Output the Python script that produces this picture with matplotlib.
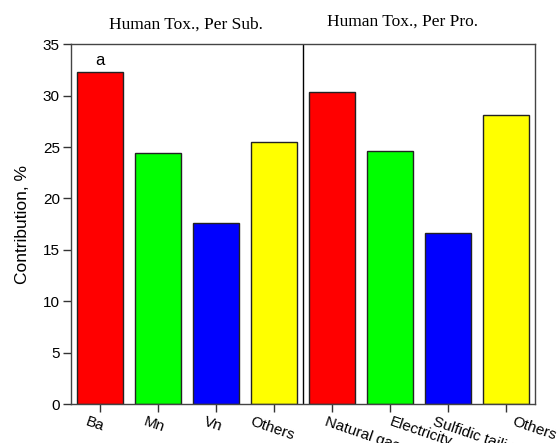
import numpy as np
import matplotlib
matplotlib.use('Agg')
from matplotlib import pyplot as plt
from matplotlib import transforms

## Contributions to human toxicity, per substance and per process
categories = ['Ba', 'Mn', 'Vn', 'Others',
              'Natural gas', 'Electricity', 'Sulfidic tailing', 'Others']
values = [32.3, 24.4, 17.6, 25.5, 30.4, 24.65, 16.6, 28.1]
colors = ['#ff0000', '#00ff00', '#0000ff', '#ffff00',
          '#ff0000', '#00ff00', '#0000ff', '#ffff00']
group_titles = ['Human Tox., Per Sub.', 'Human Tox., Per Pro.']

# horizontal nudges for the rotated category labels [px]
label_dx = [-12, -12, -9, -21, -4, 2, -12, 9]

plt.rcParams['font.family'] = ['Liberation Sans', 'DejaVu Sans']

fig = plt.figure(figsize=(5.6, 4.43), dpi=100)
ax = fig.add_axes([71/560, 1-404/443, (535-71)/560, (404-44.3)/443])

x = np.arange(1, len(values)+1)
ax.bar(x, values, width=0.8, color=colors, edgecolor='#222222', linewidth=1.0)

## Divider between the two groups
ax.axvline(4.5, color='black', linewidth=1.0)

ax.set_xlim(0.5, 8.5)
ax.set_ylim(0, 35)
ax.set_yticks(np.arange(0, 36, 5))
ax.set_xticks(x)
ax.set_xticklabels([])

## Rotated category labels, drawn by hand so each can be nudged
for xi, name, dx in zip(x, categories, label_dx):
    ax.annotate(name, xy=(xi, 0), xycoords=('data', 'axes fraction'),
                xytext=(dx, -11), textcoords='offset pixels',
                rotation=-19, ha='left', va='top', rotation_mode='anchor',
                fontsize=11, annotation_clip=False)

ax.tick_params(axis='both', direction='out', length=6, width=1, color='#333333', labelsize=11)
ax.tick_params(axis='y', pad=2)
for s in ax.spines.values():
    s.set_color('#444444')
    s.set_linewidth(1.0)

ax.set_ylabel('Contribution, %', fontsize=12.5, labelpad=9)

## Group titles above the frame
trans = transforms.blended_transform_factory(ax.transData, ax.transAxes)
ax.text(2.48, 1.055, group_titles[0], transform=trans, ha='center', va='center',
        fontsize=12.5, family='Liberation Serif')
ax.text(6.21, 1.064, group_titles[1], transform=trans, ha='center', va='center',
        fontsize=12.5, family='Liberation Serif')

ax.text(1, values[0]+0.4, 'a', ha='center', va='bottom', fontsize=12)

fig.savefig('out.png', dpi=100)
